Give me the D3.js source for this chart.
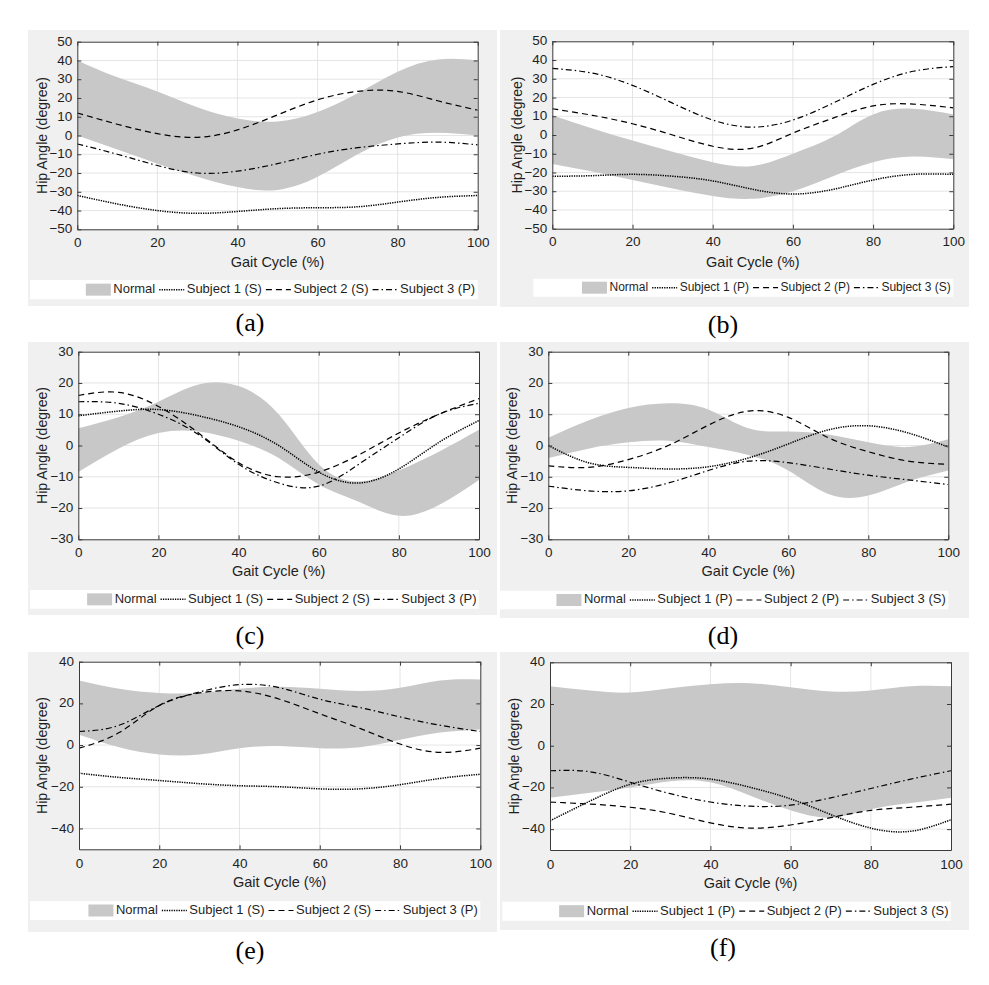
<!DOCTYPE html>
<html>
<head>
<meta charset="utf-8">
<script src="https://cdn.jsdelivr.net/npm/d3@7"></script>
<style>
  body { margin: 0; background: #fff; }
  svg { display: block; }
  text { font-family: "Liberation Sans", Arial, sans-serif; fill: #1f1f1f; }
  .panel-label { font-family: "Liberation Serif", "Times New Roman", serif; fill: #000; }
</style>
</head>
<body>
<div id="fig"></div>
<script>
// gait cycle samples (%) shared by every curve
const gaitCycle = [0, 10, 20, 30, 40, 50, 60, 70, 80, 90, 100];
const xTicks = [0, 20, 40, 60, 80, 100];
const yTicksWide = [-50, -40, -30, -20, -10, 0, 10, 20, 30, 40, 50];
const yTicksMid = [-30, -20, -10, 0, 10, 20, 30];
const yTicksLow = [-40, -20, 0, 20, 40];

// (a)
const aNormalUpper = [40, 31, 23.5, 15, 9, 7.5, 12.5, 22.5, 34, 40.5, 40];
const aNormalLower = [0, -7.5, -15, -22, -27.5, -29, -22, -10, -1, 1.5, 0];
const aSubject1 = [-32, -36.5, -40, -41.5, -40.5, -39, -38.5, -38, -35.5, -33, -32];
const aSubject2 = [12, 6, 1, -1, 3, 11, 19, 23.5, 23.5, 18.5, 13.5];
const aSubject3 = [-4.5, -10, -16, -20, -19, -15, -10, -6.5, -4.5, -3.5, -5];
const aLegend = ["Normal", "Subject 1 (S)", "Subject 2 (S)", "Subject 3 (P)"];

// (b)
const bNormalUpper = [10.5, 3.5, -3, -9, -14.5, -16.5, -10, -1, 11, 14, 11];
const bNormalLower = [-15.5, -19.5, -24, -28.5, -32.5, -34, -30, -22, -14.5, -11.5, -13];
const bSubject1 = [-22, -21.7, -21, -22, -24.5, -29, -31.5, -29, -24, -21, -21];
const bSubject2 = [14, 10.5, 6, 0, -6, -7, 1, 9, 15.5, 16.5, 14.5];
const bSubject3 = [35.5, 33, 26.5, 17, 8, 4.2, 8, 17, 27, 34, 36.5];
const bLegend = ["Normal", "Subject 1 (P)", "Subject 2 (P)", "Subject 3 (S)"];

// (c)
const cNormalUpper = [5.5, 9, 14, 19.5, 19, 10, -6, -11.5, -8, -2, 5];
const cNormalLower = [-8.5, -1, 4, 4.5, 1.5, -4, -12.5, -18, -22.5, -19, -11];
const cSubject1 = [9.5, 11, 11.5, 9.5, 6, 0, -8.5, -12, -7.5, 1, 8];
const cSubject2 = [16, 17, 12.5, 4, -5.5, -10, -8.5, -3, 4, 10, 15];
const cSubject3 = [14, 13.5, 10, 3.5, -6, -12, -13, -6, 2.5, 10, 13.5];
const cLegend = ["Normal", "Subject 1 (S)", "Subject 2 (S)", "Subject 3 (P)"];

// (d)
const dNormalUpper = [2.5, 8, 12, 13.5, 11.5, 5.5, 4.5, 3.5, 1, -0.5, 2];
const dNormalLower = [-4, -1, 1, 1.5, -0.5, -3, -8, -15.5, -16, -11.5, -8];
const dSubject1 = [0, -5.5, -7, -7.5, -6.8, -4, 0.5, 5, 6.3, 4, -0.5];
const dSubject2 = [-6.5, -7, -4.5, 0, 6.5, 11, 9, 2.5, -2, -5, -6];
const dSubject3 = [-13, -14.5, -14.5, -12, -8, -5, -5.5, -7.5, -9.5, -11, -12.5];
const dLegend = ["Normal", "Subject 1 (P)", "Subject 2 (P)", "Subject 3 (S)"];

// (e)
const eNormalUpper = [31, 27, 25, 25, 27, 28, 27, 26, 27.5, 31, 31.5];
const eNormalLower = [5, -1, -4.5, -4.5, -1.5, -0.5, -1.5, -1, 2.5, 6, 7.5];
const eSubject1 = [-13.5, -15.5, -17, -18.5, -19.5, -20, -21, -21, -19, -16, -14];
const eSubject2 = [-1.5, 6, 19, 25, 26, 22, 15, 8, 0.5, -3.5, -1.5];
const eSubject3 = [6.5, 9.5, 19, 25.5, 29, 27.5, 22, 18, 13.5, 9.5, 6.5];
const eLegend = ["Normal", "Subject 1 (S)", "Subject 2 (S)", "Subject 3 (P)"];

// (f)
const fNormalUpper = [28.5, 26.5, 25.5, 27.5, 29.5, 30, 28, 26, 26.5, 28.5, 28.5];
const fNormalLower = [-25, -22.5, -20, -17, -17.5, -24, -31, -34.5, -30.5, -27.5, -25];
const fSubject1 = [-36, -26.5, -18.5, -15.5, -16, -20, -25.5, -33, -39.5, -41, -35.5];
const fSubject2 = [-27, -28, -29.5, -32.5, -37, -39.5, -38, -34.5, -31, -29.5, -28];
const fSubject3 = [-12, -12.5, -17.5, -23, -27, -29, -28.5, -25, -20.5, -16, -12];
const fLegend = ["Normal", "Subject 1 (P)", "Subject 2 (P)", "Subject 3 (S)"];

const W = 989, H = 985;
const bandColor = "#c8c8c8";
const dashStyles = ["1.3,1.1", "6,4", "6,3,1.5,3"];

// layout: background box, plot box, legend box, label positions
const panels = [
  { tag: "(a)", up: aNormalUpper, lo: aNormalLower, subj: [aSubject1, aSubject2, aSubject3], legend: aLegend,
    yDomain: [-50, 50], yTicks: yTicksWide, legFont: 13,
    bg: [28, 30, 497, 306], plot: [77.3, 41.7, 477.7, 229.3], leg: [30, 280, 477.7, 299.3],
    yLabelX: 43, xLabelDy: 34, tickDy: 14, labelX: 250, labelY: 331 },
  { tag: "(b)", up: bNormalUpper, lo: bNormalLower, subj: [bSubject1, bSubject2, bSubject3], legend: bLegend,
    yDomain: [-50, 50], yTicks: yTicksWide, legFont: 12,
    bg: [500, 30, 969, 307], plot: [552.3, 41.3, 953.3, 228.7], leg: [533.3, 278.7, 953.3, 296.7],
    yLabelX: 518, xLabelDy: 34, tickDy: 14, labelX: 723, labelY: 333 },
  { tag: "(c)", up: cNormalUpper, lo: cNormalLower, subj: [cSubject1, cSubject2, cSubject3], legend: cLegend,
    yDomain: [-30, 30], yTicks: yTicksMid, legFont: 13,
    bg: [28, 342, 497, 615], plot: [78.3, 351.7, 479, 539.3], leg: [30, 590, 479, 608.7],
    yLabelX: 43, xLabelDy: 33, tickDy: 14, labelX: 250, labelY: 644 },
  { tag: "(d)", up: dNormalUpper, lo: dNormalLower, subj: [dSubject1, dSubject2, dSubject3], legend: dLegend,
    yDomain: [-30, 30], yTicks: yTicksMid, legFont: 13,
    bg: [500, 342, 969, 618], plot: [548.3, 351.7, 948.3, 539.3], leg: [500, 590.7, 948.3, 609.3],
    yLabelX: 513, xLabelDy: 33, tickDy: 14, labelX: 723, labelY: 644 },
  { tag: "(e)", up: eNormalUpper, lo: eNormalLower, subj: [eSubject1, eSubject2, eSubject3], legend: eLegend,
    yDomain: [-50, 40], yTicks: yTicksLow, legFont: 13,
    bg: [28, 652, 497, 932], plot: [79, 661.7, 480.3, 849.3], leg: [30, 901, 480.3, 920],
    yLabelX: 43, xLabelDy: 34, tickDy: 15, labelX: 250, labelY: 959 },
  { tag: "(f)", up: fNormalUpper, lo: fNormalLower, subj: [fSubject1, fSubject2, fSubject3], legend: fLegend,
    yDomain: [-50, 40], yTicks: yTicksLow, legFont: 13,
    bg: [500, 652, 969, 930], plot: [550, 662.3, 951, 850], leg: [502.3, 901.7, 951, 920.7],
    yLabelX: 515, xLabelDy: 34, tickDy: 15, labelX: 723, labelY: 956 }
];

const svg = d3.select("#fig").append("svg")
  .attr("width", W).attr("height", H);

panels.forEach((p, k) => drawPanel(p, k));

function drawPanel(p, k) {
  const [bx0, by0, bx1, by1] = p.bg;
  const [px0, py0, px1, py1] = p.plot;
  const g = svg.append("g");

  g.append("rect").attr("x", bx0).attr("y", by0)
    .attr("width", bx1 - bx0).attr("height", by1 - by0).attr("fill", "#f0f0f0");
  g.append("rect").attr("x", px0).attr("y", py0)
    .attr("width", px1 - px0).attr("height", py1 - py0).attr("fill", "#fff");

  const x = d3.scaleLinear().domain([0, 100]).range([px0, px1]);
  const y = d3.scaleLinear().domain(p.yDomain).range([py1, py0]);

  // grid
  g.append("g").selectAll("line").data(xTicks.slice(1, -1)).join("line")
    .attr("x1", d => x(d)).attr("x2", d => x(d)).attr("y1", py0).attr("y2", py1)
    .attr("stroke", "#dedede").attr("stroke-width", 0.8);
  g.append("g").selectAll("line").data(p.yTicks.filter(v => v > p.yDomain[0] && v < p.yDomain[1])).join("line")
    .attr("y1", d => y(d)).attr("y2", d => y(d)).attr("x1", px0).attr("x2", px1)
    .attr("stroke", "#dedede").attr("stroke-width", 0.8);

  const clipId = "clip" + k;
  g.append("clipPath").attr("id", clipId).append("rect")
    .attr("x", px0).attr("y", py0).attr("width", px1 - px0).attr("height", py1 - py0);
  const inner = g.append("g").attr("clip-path", `url(#${clipId})`);

  const band = d3.area()
    .x((d, i) => x(gaitCycle[i]))
    .y0((d, i) => y(p.lo[i]))
    .y1(d => y(d))
    .curve(d3.curveNatural);
  inner.append("path").datum(p.up).attr("d", band).attr("fill", bandColor);

  const line = d3.line()
    .x((d, i) => x(gaitCycle[i]))
    .y(d => y(d))
    .curve(d3.curveNatural);
  p.subj.forEach((s, j) => {
    inner.append("path").datum(s).attr("d", line)
      .attr("fill", "none").attr("stroke", "#000")
      .attr("stroke-width", j === 0 ? 1.5 : 1.2)
      .attr("stroke-dasharray", dashStyles[j]);
  });

  // axes (box with inward ticks)
  const axisColor = "#3a3a3a";
  const bottom = g.append("g").attr("transform", `translate(0,${py1})`)
    .call(d3.axisBottom(x).tickValues(xTicks).tickSizeInner(-4).tickSizeOuter(0));
  const left = g.append("g").attr("transform", `translate(${px0},0)`)
    .call(d3.axisLeft(y).tickValues(p.yTicks).tickSizeInner(-4).tickSizeOuter(0).tickPadding(5));
  const top = g.append("g").attr("transform", `translate(0,${py0})`)
    .call(d3.axisTop(x).tickValues(xTicks).tickSizeInner(-4).tickSizeOuter(0).tickFormat(""));
  const right = g.append("g").attr("transform", `translate(${px1},0)`)
    .call(d3.axisRight(y).tickValues(p.yTicks).tickSizeInner(-4).tickSizeOuter(0).tickFormat(""));
  [bottom, left, top, right].forEach(a => {
    a.select(".domain").attr("stroke", axisColor).attr("stroke-width", 1);
    a.selectAll(".tick line").attr("stroke", axisColor);
    a.selectAll("text").attr("font-size", 13.5).attr("fill", "#1f1f1f")
      .style("font-family", '"Liberation Sans", Arial, sans-serif');
  });
  bottom.selectAll("text").attr("dy", null).attr("y", p.tickDy).attr("dominant-baseline", "middle");
  left.selectAll("text").attr("dy", null).attr("dominant-baseline", "middle");

  // axis titles
  g.append("text").attr("x", (px0 + px1) / 2).attr("y", py1 + p.xLabelDy)
    .attr("text-anchor", "middle").attr("dominant-baseline", "middle")
    .attr("font-size", 14.5).text("Gait Cycle (%)");
  g.append("text")
    .attr("transform", `translate(${p.yLabelX},${(py0 + py1) / 2}) rotate(-90)`)
    .attr("text-anchor", "middle").attr("dominant-baseline", "middle")
    .attr("font-size", 14).text("Hip Angle (degree)");

  // legend
  const [lx0, ly0, lx1, ly1] = p.leg;
  const lg = g.append("g");
  lg.append("rect").attr("x", lx0).attr("y", ly0)
    .attr("width", lx1 - lx0).attr("height", ly1 - ly0).attr("fill", "#fff");
  const cy = (ly0 + ly1) / 2;
  let cursor = lx1 - 2.5;
  for (let j = p.legend.length - 1; j >= 0; j--) {
    const t = lg.append("text").attr("y", cy).attr("dominant-baseline", "middle")
      .attr("font-size", p.legFont).text(p.legend[j]);
    const tw = t.node().getComputedTextLength();
    cursor -= tw;
    t.attr("x", cursor);
    cursor -= 2.5;
    if (j === 0) {
      lg.append("rect").attr("x", cursor - 25).attr("y", cy - 6)
        .attr("width", 25).attr("height", 12).attr("fill", bandColor);
    } else {
      lg.append("line").attr("x1", cursor - 25).attr("x2", cursor).attr("y1", cy).attr("y2", cy)
        .attr("stroke", "#000").attr("stroke-width", j === 1 ? 1.5 : 1.2)
        .attr("stroke-dasharray", dashStyles[j - 1]);
    }
    cursor -= 25 + 4;
  }

  // panel tag
  g.append("text").attr("class", "panel-label")
    .attr("x", p.labelX).attr("y", p.labelY)
    .attr("text-anchor", "middle").attr("font-size", 26).text(p.tag);
}
</script>
</body>
</html>
